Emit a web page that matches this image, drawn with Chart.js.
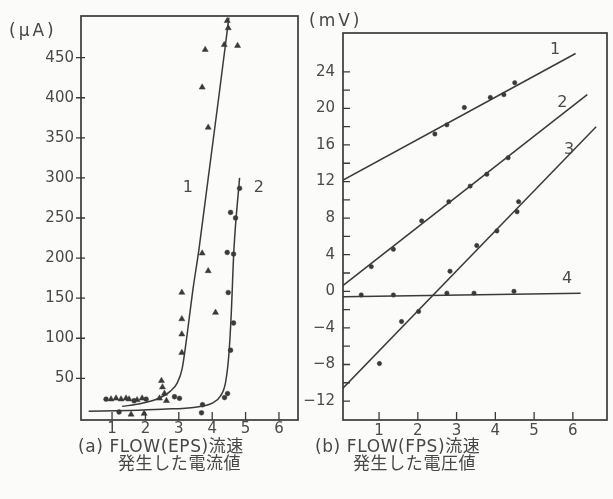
<!DOCTYPE html>
<html>
<head>
<meta charset="utf-8">
<script src="https://cdn.jsdelivr.net/npm/chart.js@4/dist/chart.umd.min.js"></script>
<style>
  body { margin: 0; width: 613px; height: 499px; overflow: hidden; position: relative;
         background: #fbfbf9; color: #474747;
         font-family: "DejaVu Sans", "Noto Sans CJK JP", sans-serif; }
  canvas { position: absolute; top: 0; }
  #ca { left: 0; }
  #cb { left: 296px; }
  .t { position: absolute; white-space: nowrap; font-size: 17px; line-height: 18px; letter-spacing: 0.6px; }
  .u { letter-spacing: 3px; }
</style>
</head>
<body>
<canvas id="ca" width="305" height="499" style="width:305px;height:499px"></canvas>
<canvas id="cb" width="317" height="499" style="width:317px;height:499px"></canvas>
<div class="t u" style="left:9px;top:21px">(μA)</div>
<div class="t u" style="left:309px;top:11px">(mV)</div>
<div class="t" style="left:78px;top:437px">(a) FLOW(EPS)流速</div>
<div class="t" style="left:118px;top:454px">発生した電流値</div>
<div class="t" style="left:315px;top:437px">(b) FLOW(FPS)流速</div>
<div class="t" style="left:353px;top:454px">発生した電圧値</div>
<script>
const INK = "#3a3a3a";
const TXT = "#4a4a4a";

// ---- (a) 発生した電流値 (μA) ----
const aXTicks = [1, 2, 3, 4, 5, 6];
const aYTicks = [50, 100, 150, 200, 250, 300, 350, 400, 450];

// 1: 三角
const aTriX = [4.45, 4.48, 4.36, 4.76, 3.79, 3.70, 3.88, 3.70, 3.88, 3.09, 4.10, 3.09, 3.09, 3.09,
               0.97, 1.12, 1.27, 1.42, 1.51, 1.75, 1.90, 1.57, 1.96, 2.48, 2.51, 2.57, 2.42, 2.63];
const aTriY = [496, 487, 466, 465, 460, 413, 363, 206, 184, 157, 132, 124, 105, 82,
               24, 25, 24, 25, 24, 23, 25, 5, 6, 47, 39, 31, 25, 22];
// 2: 丸
const aDotX = [0.82, 1.66, 2.02, 1.21, 2.87, 3.02, 3.71, 3.68, 4.37, 4.46,
               4.55, 4.64, 4.48, 4.64, 4.45, 4.55, 4.70, 4.82];
const aDotY = [24, 22, 24, 8, 27, 25, 17, 7, 26, 31,
               85, 119, 157, 205, 207, 257, 250, 287];

// fitted curves
const aCurve1X = [1.3, 1.8, 2.2, 2.5, 2.75, 2.95, 3.1, 3.25, 3.42, 3.6, 4.5];
const aCurve1Y = [15, 18, 22, 27, 34, 44, 62, 105, 160, 210, 500];
const aCurve2X = [0.3, 1.5, 2.5, 3.5, 4.0, 4.25, 4.4, 4.5, 4.57, 4.65, 4.82];
const aCurve2Y = [9, 10, 11.5, 14, 19, 28, 45, 80, 130, 210, 300];

const aTags = ["1", "2"];
const aTagX = [3.27, 5.4];
const aTagY = [288, 288];

// ---- (b) 発生した電圧値 (mV) ----
const bXTicks = [1, 2, 3, 4, 5, 6];
const bYLabels = [-12, -8, -4, 0, 4, 8, 12, 16, 20, 24];
const bYMinor = [-10, -6, -2, 2, 6, 10, 14, 18, 22];

const bPts1X = [2.44, 2.75, 3.2, 3.87, 4.22, 4.5];
const bPts1Y = [17.2, 18.2, 20.1, 21.2, 21.5, 22.8];
const bPts2X = [0.8, 1.37, 2.1, 2.8, 3.35, 3.78, 4.33];
const bPts2Y = [2.7, 4.6, 7.7, 9.8, 11.5, 12.8, 14.6];
const bPts3X = [1.01, 1.58, 2.02, 2.83, 3.52, 4.04, 4.56, 4.6];
const bPts3Y = [-7.9, -3.3, -2.2, 2.2, 5.0, 6.6, 8.7, 9.8];
const bPts4X = [0.54, 1.37, 2.75, 3.45, 4.48];
const bPts4Y = [-0.4, -0.4, -0.2, -0.2, 0];

// fitted straight lines (end points)
const bLine1X = [0, 6.07], bLine1Y = [12, 26];
const bLine2X = [0, 6.37], bLine2Y = [0.4, 21.5];
const bLine3X = [0, 6.6],  bLine3Y = [-10.9, 18];
const bLine4X = [0, 6.2],  bLine4Y = [-0.6, -0.2];

const bTags = ["1", "2", "3", "4"];
const bTagX = [5.54, 5.73, 5.9, 5.85];
const bTagY = [26.4, 20.6, 15.5, 1.4];

const zip = (xs, ys) => xs.map((x, i) => ({ x, y: ys[i] }));

function curve(xs, ys, smooth) {
  return {
    type: "line",
    data: zip(xs, ys),
    borderColor: INK,
    borderWidth: 1.5,
    pointRadius: 0,
    fill: false,
    cubicInterpolationMode: smooth ? "monotone" : "default",
    tension: 0,
  };
}

function marks(xs, ys, style, r) {
  return {
    type: "scatter",
    data: zip(xs, ys),
    pointStyle: style,
    pointRadius: r,
    backgroundColor: INK,
    borderColor: INK,
    borderWidth: 0.5,
  };
}

// frame + hand-drawn tick marks + curve numbers
function framePlugin(o) {
  return {
    id: "frameTicks",
    afterDraw(chart) {
      const { ctx, chartArea: a, scales } = chart;
      ctx.save();
      ctx.strokeStyle = INK;
      ctx.lineWidth = 1.7;
      ctx.strokeRect(a.left, a.top, a.right - a.left, a.bottom - a.top);
      ctx.lineWidth = 1.3;
      ctx.beginPath();
      scales.y.ticks.forEach(t => {
        const y = scales.y.getPixelForValue(t.value);
        ctx.moveTo(a.left - o.yOut, y);
        ctx.lineTo(a.left + o.yIn, y);
      });
      scales.x.ticks.forEach(t => {
        const x = scales.x.getPixelForValue(t.value);
        ctx.moveTo(x, a.bottom);
        ctx.lineTo(x, a.bottom - o.xIn);
      });
      ctx.stroke();

      ctx.fillStyle = TXT;
      ctx.font = "16px 'DejaVu Sans'";
      ctx.textAlign = "center";
      ctx.textBaseline = "middle";
      o.tags.forEach((s, i) => {
        ctx.fillText(s, scales.x.getPixelForValue(o.tagX[i]), scales.y.getPixelForValue(o.tagY[i]));
      });
      ctx.restore();
    },
  };
}

const tickFont = { family: "DejaVu Sans", size: 15 };

function baseOptions(p) {
  return {
    responsive: false,
    animation: false,
    layout: { padding: { top: p.top, right: p.right, left: 0, bottom: 0 } },
    plugins: { legend: { display: false }, tooltip: { enabled: false } },
    scales: {
      x: {
        type: "linear",
        min: p.xMin, max: p.xMax,
        grid: { display: false, drawTicks: false },
        border: { display: false },
        afterBuildTicks(s) { s.ticks = p.xTicks.map(v => ({ value: v })); },
        afterFit(s) { s.height = p.xH; },
        ticks: { color: TXT, font: tickFont, padding: p.xPad, maxRotation: 0, autoSkip: false },
      },
      y: {
        type: "linear",
        min: p.yMin, max: p.yMax,
        grid: { display: false, drawTicks: false },
        border: { display: false },
        afterBuildTicks(s) { s.ticks = p.yTicks.map(v => ({ value: v })); },
        afterFit(s) { s.width = p.yW; },
        ticks: {
          color: TXT, font: tickFont, padding: p.yPad, autoSkip: false,
          callback: p.yLabel,
        },
      },
    },
  };
}

new Chart(document.getElementById("ca"), {
  type: "scatter",
  data: {
    datasets: [
      curve(aCurve1X, aCurve1Y, true),
      curve(aCurve2X, aCurve2Y, true),
      marks(aTriX, aTriY, "triangle", 3.5),
      marks(aDotX, aDotY, "circle", 2.4),
    ],
  },
  options: baseOptions({
    top: 13, right: 7, xH: 79, yW: 81,
    xMin: 0.07, xMax: 6.57, yMin: -2, yMax: 502,
    xTicks: aXTicks, yTicks: aYTicks, yPad: 7, xPad: 0,
    yLabel: v => String(v),
  }),
  plugins: [framePlugin({ yOut: 5, yIn: 4, xIn: 8, tags: aTags, tagX: aTagX, tagY: aTagY })],
});

new Chart(document.getElementById("cb"), {
  type: "scatter",
  data: {
    datasets: [
      curve(bLine1X, bLine1Y, false),
      curve(bLine2X, bLine2Y, false),
      curve(bLine3X, bLine3Y, false),
      curve(bLine4X, bLine4Y, false),
      marks(bPts1X, bPts1Y, "circle", 2.2),
      marks(bPts2X, bPts2Y, "circle", 2.2),
      marks(bPts3X, bPts3Y, "circle", 2.2),
      marks(bPts4X, bPts4Y, "circle", 2.2),
    ],
  },
  options: baseOptions({
    top: 33, right: 6, xH: 79, yW: 47,
    xMin: 0.07, xMax: 6.88, yMin: -14.07, yMax: 28.24,
    xTicks: bXTicks, yTicks: bYLabels.concat(bYMinor), yPad: 8, xPad: 2,
    yLabel: v => (v % 4 === 0 ? String(v).replace("-", "−") : ""),
  }),
  plugins: [framePlugin({ yOut: 0, yIn: 7, xIn: 8, tags: bTags, tagX: bTagX, tagY: bTagY })],
});
</script>
</body>
</html>
